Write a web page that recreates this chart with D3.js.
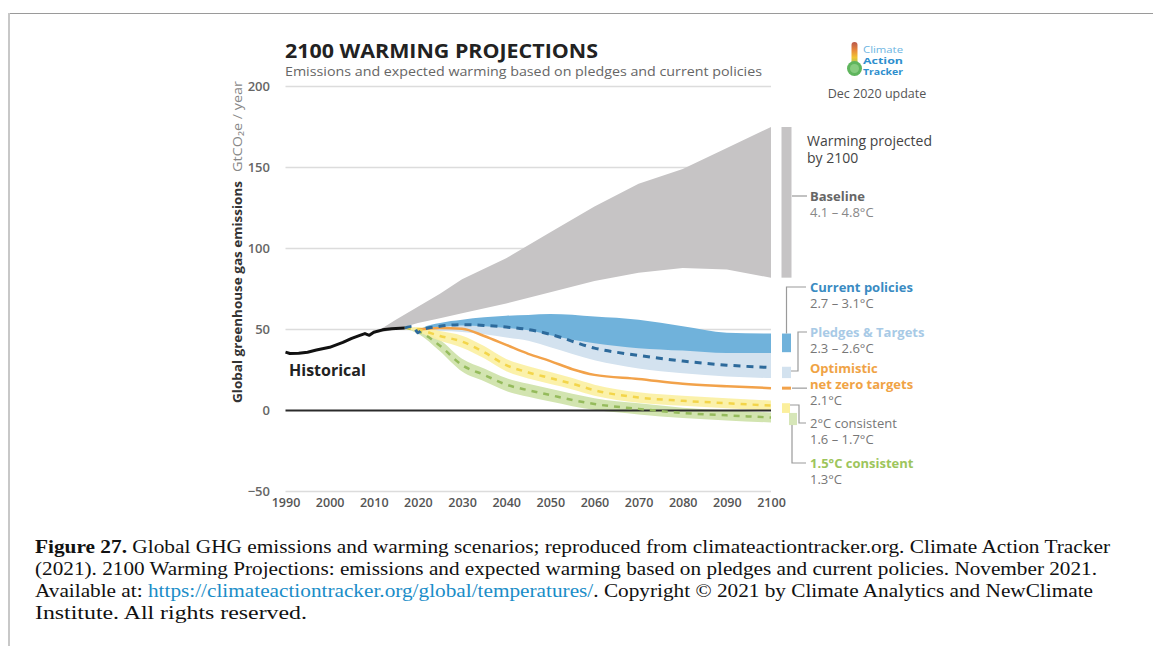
<!DOCTYPE html>
<html><head><meta charset="utf-8">
<script src="https://cdn.jsdelivr.net/npm/d3@7"></script>
<style>
html,body{margin:0;padding:0;background:#fff;}
svg{display:block;}
</style></head>
<body>
<svg id="chart" width="1153" height="646"></svg>
<script>
// ---------------- DATA ----------------
const xTicks = [1990, 2000, 2010, 2020, 2030, 2040, 2050, 2060, 2070, 2080, 2090, 2100];
const yTicks = [-50, 0, 50, 100, 150, 200];

const histYears  = [1990, 1991, 1993, 1995, 1997, 2000, 2003, 2005, 2007, 2008, 2009, 2010, 2012, 2014, 2016, 2017];
const histValues = [36, 35.2, 35.3, 36, 37.3, 39, 42, 44.5, 46.5, 47.5, 46.4, 48.3, 49.8, 50.5, 50.8, 51];

const baselineYears = [2010, 2015, 2020, 2025, 2030, 2040, 2050, 2060, 2070, 2080, 2090, 2100];
const baselineHigh  = [47.5, 56, 64, 72, 81, 94, 110, 126, 140, 149, 162, 175];
const baselineLow   = [47.5, 50, 54, 57, 60, 66, 73, 80, 85, 88, 87, 82];

const policyYears  = [2017, 2019, 2020, 2021, 2025, 2030, 2035, 2040, 2045, 2050, 2060, 2070, 2080, 2090, 2100];
const currentHigh  = [51, 52, 48.5, 51, 54, 56, 57.5, 58.5, 59, 59.5, 58, 56, 52, 48, 47.5];
const currentLow   = [51, 52, 47, 49.5, 51.5, 52.5, 52, 51, 49.5, 46.5, 41.5, 38.5, 37, 35.5, 35.5];
const pledgeHigh   = [51, 52, 47.5, 50, 52, 53, 53, 52, 50.5, 48, 43, 40, 38, 36.5, 36.5];
const pledgeLow    = [51, 52, 47, 48, 49, 48.5, 47, 45, 43, 39, 31, 26, 23, 21, 20];
const pledgeMid    = [51, 52, 48, 50, 52, 53, 52.5, 51.5, 50, 47, 38.5, 34, 30.5, 28, 26.5];

const netZeroYears = [2020, 2025, 2030, 2035, 2040, 2045, 2050, 2055, 2060, 2070, 2080, 2090, 2100];
const netZeroValues = [50, 51, 50.5, 46, 40.5, 35, 30.5, 25.5, 22, 19.5, 16.5, 15, 13.8];

const pathYears   = [2017, 2020, 2025, 2030, 2035, 2040, 2045, 2050, 2055, 2060, 2070, 2080, 2090, 2100];
const twoDegHigh  = [51, 51.5, 49, 46.2, 39.8, 31.8, 27.3, 23.7, 20, 15.9, 11.2, 9.1, 7.6, 6.1];
const twoDegMid   = [51, 50, 46, 42.5, 36, 28, 23.5, 20, 16.5, 12.5, 8, 6, 4.5, 3];
const twoDegLow   = [51, 48.5, 43, 38.8, 32.2, 24.2, 19.7, 16.3, 13, 9.1, 4.8, 2.9, 1.4, -0.1];
const oneFiveHigh = [51, 50.5, 43.5, 32, 26, 20, 16.5, 13.5, 10.3, 7.6, 4.4, 1.7, 0.1, -1.2];
const oneFiveMid  = [51, 49, 40, 28, 22, 16, 12.5, 9.5, 6.5, 4, 1, -1.5, -3, -4.3];
const oneFiveLow  = [51, 47.5, 36.5, 24, 18, 12, 8.5, 5.5, 2.7, 0.4, -2.4, -4.7, -6.1, -7.4];

// warming ranges shown at 2100
const barNames = ["Baseline", "Current policies", "Pledges & Targets", "2°C consistent", "1.5°C consistent"];
const barLow   = [82, 36, 20, -1.5, -9];
const barHigh  = [175, 47.5, 27, 4.5, -1.5];

const labelLines = [
  ["Baseline", "4.1 – 4.8°C"],
  ["Current policies", "2.7 – 3.1°C"],
  ["Pledges & Targets", "2.3 – 2.6°C"],
  ["Optimistic", "net zero targets", "2.1°C"],
  ["2°C consistent", "1.6 – 1.7°C"],
  ["1.5°C consistent", "1.3°C"]
];

// ---------------- DRAW ----------------
const svg = d3.select("#chart");
const F = "'Open Sans', 'Noto Sans', sans-serif";

// frame
svg.append("line").attr("x1", 8).attr("x2", 1153).attr("y1", 13.5).attr("y2", 13.5).attr("stroke", "#9a9a9a").attr("stroke-width", 1);
svg.append("line").attr("x1", 9).attr("x2", 9).attr("y1", 13).attr("y2", 646).attr("stroke", "#c8c8c8").attr("stroke-width", 2);

const x = d3.scaleLinear().domain([1990, 2100]).range([285.5, 771]);
const y = d3.scaleLinear().domain([-50, 200]).range([491.5, 86.5]);

// gridlines
svg.append("g").selectAll("line").data(yTicks.filter(d => d !== 0)).join("line")
  .attr("x1", x(1990)).attr("x2", x(2100))
  .attr("y1", d => y(d)).attr("y2", d => y(d))
  .attr("stroke", "#dcdcdc").attr("stroke-width", 1.5);

// y axis
const yAxis = svg.append("g").attr("transform", "translate(270,0)")
  .call(d3.axisLeft(y).tickValues(yTicks).tickSize(0).tickPadding(0));
yAxis.select(".domain").remove();
yAxis.selectAll("text").attr("font-family", F).attr("font-size", 13).attr("font-weight", 600).attr("fill", "#666");

// x axis
const xAxis = svg.append("g").attr("transform", "translate(0,491.5)")
  .call(d3.axisBottom(x).tickValues(xTicks).tickFormat(d3.format("d")).tickSize(0).tickPadding(7));
xAxis.select(".domain").remove();
xAxis.selectAll("text").attr("font-family", F).attr("font-size", 12.5).attr("font-weight", 600).attr("fill", "#555");

// y title
svg.append("text").attr("transform", "translate(242,403) rotate(-90)")
  .attr("font-family", F).attr("font-size", 12.5).attr("font-weight", 700).attr("fill", "#333")
  .attr("textLength", 222).attr("lengthAdjust", "spacingAndGlyphs")
  .text("Global greenhouse gas emissions");
svg.append("text").attr("transform", "translate(242,172) rotate(-90)")
  .attr("font-family", F).attr("font-size", 12).attr("fill", "#888")
  .attr("textLength", 91).attr("lengthAdjust", "spacingAndGlyphs")
  .text("GtCO₂e / year");

// bands
function band(years, lo, hi, curve) {
  return d3.area().curve(curve || d3.curveMonotoneX)
    .x((d, i) => x(years[i])).y0((d, i) => y(lo[i])).y1((d, i) => y(hi[i]))(years);
}
function line(years, vals, curve) {
  return d3.line().curve(curve || d3.curveMonotoneX)
    .x((d, i) => x(years[i])).y((d, i) => y(vals[i]))(years);
}

svg.append("path").attr("d", band(baselineYears, baselineLow, baselineHigh, d3.curveLinear)).attr("fill", "#c6c4c5");
svg.append("path").attr("d", band(policyYears, pledgeLow, pledgeHigh)).attr("fill", "#d3e2ef");
svg.append("path").attr("d", band(policyYears, currentLow, currentHigh)).attr("fill", "#70b2db");
svg.append("path").attr("d", band(pathYears, oneFiveLow, oneFiveHigh)).attr("fill", "#d2e4b0");
svg.append("path").attr("d", band(pathYears, twoDegLow, twoDegHigh)).attr("fill", "#fbf0a3").attr("fill-opacity", 0.92);

// zero line
svg.append("line").attr("x1", x(1990)).attr("x2", x(2100)).attr("y1", y(0)).attr("y2", y(0))
  .attr("stroke", "#2b2b2b").attr("stroke-width", 2);

// lines
svg.append("path").attr("d", line(netZeroYears, netZeroValues)).attr("fill", "none")
  .attr("stroke", "#f2a24a").attr("stroke-width", 2.5);
svg.append("path").attr("d", line(pathYears, oneFiveMid)).attr("fill", "none")
  .attr("stroke", "#95bb5c").attr("stroke-width", 2.5).attr("stroke-dasharray", "6,6");
svg.append("path").attr("d", line(pathYears, twoDegMid)).attr("fill", "none")
  .attr("stroke", "#f3d54a").attr("stroke-width", 2.5).attr("stroke-dasharray", "6,6");
svg.append("path").attr("d", line(policyYears, pledgeMid)).attr("fill", "none")
  .attr("stroke", "#2d6a9b").attr("stroke-width", 3).attr("stroke-dasharray", "7,6");
svg.append("path").attr("d", line(histYears, histValues, d3.curveLinear)).attr("fill", "none")
  .attr("stroke", "#111").attr("stroke-width", 3).attr("stroke-linejoin", "round");

svg.append("text").attr("x", 289).attr("y", 376).attr("font-family", F).attr("font-size", 16)
  .attr("font-weight", 700).attr("fill", "#222").text("Historical");

// title
svg.append("text").attr("x", 285).attr("y", 58).attr("font-family", F).attr("font-size", 19.5)
  .attr("font-weight", 700).attr("fill", "#222").attr("textLength", 313).attr("lengthAdjust", "spacingAndGlyphs")
  .text("2100 WARMING PROJECTIONS");
svg.append("text").attr("x", 285).attr("y", 76).attr("font-family", F).attr("font-size", 13.5)
  .attr("fill", "#666").attr("textLength", 477).attr("lengthAdjust", "spacingAndGlyphs")
  .text("Emissions and expected warming based on pledges and current policies");

// logo
const defs = svg.append("defs");
const grad = defs.append("linearGradient").attr("id", "thermo").attr("x1", 0).attr("x2", 0).attr("y1", 0).attr("y2", 1);
[["0%", "#b9574b"], ["35%", "#e98a3b"], ["65%", "#f2c533"], ["100%", "#7cc36a"]].forEach(s =>
  grad.append("stop").attr("offset", s[0]).attr("stop-color", s[1]));
svg.append("rect").attr("x", 851.5).attr("y", 42).attr("width", 6).attr("height", 24).attr("rx", 3).attr("fill", "url(#thermo)");
svg.append("circle").attr("cx", 854.5).attr("cy", 68.5).attr("r", 7.5).attr("fill", "#5fb55d");
svg.append("circle").attr("cx", 854.5).attr("cy", 68.5).attr("r", 4.5).attr("fill", "#86cc7f");
[["Climate", 52.5, 400, "#6cb5e2"], ["Action", 63.5, 700, "#2e8fce"], ["Tracker", 74.5, 700, "#2e8fce"]].forEach(l =>
  svg.append("text").attr("x", 863).attr("y", l[1]).attr("font-family", F).attr("font-size", 9)
    .attr("font-weight", l[2]).attr("fill", l[3]).attr("textLength", 40).attr("lengthAdjust", "spacingAndGlyphs").text(l[0]));
svg.append("text").attr("x", 877).attr("y", 98).attr("text-anchor", "middle").attr("font-family", F).attr("font-size", 12.5).attr("fill", "#555").text("Dec 2020 update");

// right side warming bars
const x2100 = x(2100);
const barStyle = [
  {dx: 10.5, w: 10, fill: "#c6c4c5"},
  {dx: 11, w: 9, fill: "#70b2db"},
  {dx: 11, w: 9, fill: "#d3e2ef"},
  {dx: 11, w: 8, fill: "#fbef9c"},
  {dx: 18, w: 8, fill: "#d6e6b8"}
];
svg.append("g").selectAll("rect").data(barNames).join("rect")
  .attr("x", (d, i) => x2100 + barStyle[i].dx).attr("width", (d, i) => barStyle[i].w)
  .attr("y", (d, i) => y(barHigh[i])).attr("height", (d, i) => y(barLow[i]) - y(barHigh[i]))
  .attr("fill", (d, i) => barStyle[i].fill);
// optimistic marker
const lastNZ = netZeroValues[netZeroValues.length - 1];
svg.append("line").attr("x1", x2100 + 11).attr("x2", x2100 + 20).attr("y1", y(lastNZ)).attr("y2", y(lastNZ))
  .attr("stroke", "#f2a24a").attr("stroke-width", 3);

// connectors
const conn = [
  `M${x2100 + 21},196 H807`,
  `M${x2100 + 15.5},${y(barHigh[1])} V287 H806`,
  `M${x2100 + 20},371 H798 V332 H807`,
  `M${x2100 + 21},${y(lastNZ)} H807`,
  `M${x2100 + 19},405 H799 V423 H806`,
  `M${x2100 + 21},${y(barLow[4])} V463 H806`
];
svg.append("g").selectAll("path").data(conn).join("path").attr("d", d => d)
  .attr("fill", "none").attr("stroke", "#9a9a9a").attr("stroke-width", 1.2);

// labels
svg.append("text").attr("x", 807).attr("y", 146).attr("font-family", F).attr("font-size", 14).attr("fill", "#444").text("Warming projected");
svg.append("text").attr("x", 807).attr("y", 163).attr("font-family", F).attr("font-size", 14).attr("fill", "#444").text("by 2100");

const labelPos = [
  {y: [201, 217], bold: [true, false], fill: ["#666", "#888"]},
  {y: [292, 308], bold: [true, false], fill: ["#3a8bc2", "#777"]},
  {y: [337, 353], bold: [true, false], fill: ["#a8cae6", "#777"]},
  {y: [373, 389, 405], bold: [true, true, false], fill: ["#f0a345", "#f0a345", "#777"]},
  {y: [428, 444], bold: [false, false], fill: ["#777", "#777"]},
  {y: [468, 484], bold: [true, false], fill: ["#9dc55c", "#777"]}
];
labelLines.forEach((lines, i) => {
  lines.forEach((s, j) => {
    svg.append("text").attr("x", 810).attr("y", labelPos[i].y[j]).attr("font-family", F).attr("font-size", 13)
      .attr("font-weight", labelPos[i].bold[j] ? 700 : 400)
      .attr("fill", labelPos[i].fill[j]).text(s);
  });
});

// caption
const CF = "'Liberation Serif', 'DejaVu Serif', serif";
const cap = [
  {y: 553, len: 1075, parts: [["Figure 27.", "bold", "#111"], [" Global GHG emissions and warming scenarios; reproduced from climateactiontracker.org. Climate Action Tracker", "normal", "#111"]]},
  {y: 575, len: 1062, parts: [["(2021). 2100 Warming Projections: emissions and expected warming based on pledges and current policies. November 2021.", "normal", "#111"]]},
  {y: 597, len: 1058, parts: [["Available at: ", "normal", "#111"], ["https://climateactiontracker.org/global/temperatures/", "normal", "#1a8dc8"], [". Copyright © 2021 by Climate Analytics and NewClimate", "normal", "#111"]]},
  {y: 619, len: 272, parts: [["Institute. All rights reserved.", "normal", "#111"]]}
];
cap.forEach(c => {
  const t = svg.append("text").attr("x", 35).attr("y", c.y).attr("font-family", CF).attr("font-size", 19)
    .attr("textLength", c.len).attr("lengthAdjust", "spacingAndGlyphs");
  c.parts.forEach(p => t.append("tspan").attr("font-weight", p[1]).attr("fill", p[2]).text(p[0]));
});
</script>
</body></html>
